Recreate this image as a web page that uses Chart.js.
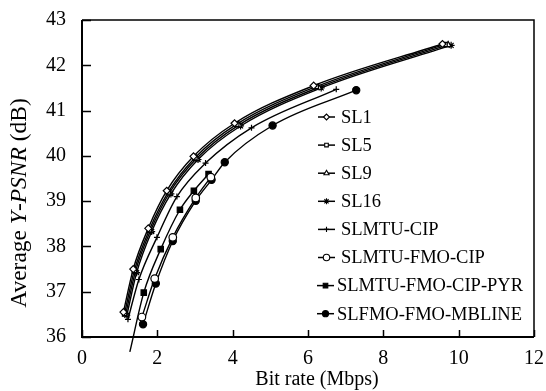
<!DOCTYPE html>
<html>
<head>
<meta charset="utf-8">
<script src="https://cdn.jsdelivr.net/npm/chart.js@4.4.1/dist/chart.umd.min.js"></script>
<style>
  html, body { margin: 0; padding: 0; background: #fff; }
  #wrap { width: 546px; height: 391px; }
</style>
</head>
<body>
<div id="wrap"><canvas id="chart" width="546" height="391"></canvas></div>
<script>
/*************************************************************
 * Data (bit rate in Mbps, average Y-PSNR in dB)
 *************************************************************/
const xTicks = [0, 2, 4, 6, 8, 10, 12];
const yTicks = [36, 37, 38, 39, 40, 41, 42, 43];

const sl1Rate = [1.10, 1.36, 1.76, 2.25, 2.96, 4.05, 6.15, 9.57];
const sl1Psnr = [36.55, 37.50, 38.40, 39.23, 39.99, 40.72, 41.55, 42.47];

const sl5Rate = [1.13, 1.39, 1.79, 2.29, 3.00, 4.11, 6.22, 9.64];
const sl5Psnr = [36.52, 37.47, 38.37, 39.20, 39.96, 40.70, 41.53, 42.46];

const sl9Rate = [1.16, 1.42, 1.82, 2.32, 3.04, 4.16, 6.28, 9.72];
const sl9Psnr = [36.50, 37.45, 38.35, 39.18, 39.94, 40.68, 41.51, 42.45];

const sl16Rate = [1.19, 1.45, 1.85, 2.36, 3.08, 4.21, 6.35, 9.80];
const sl16Psnr = [36.48, 37.42, 38.33, 39.16, 39.92, 40.66, 41.50, 42.44];

const mtuCipRate = [1.22, 1.51, 1.99, 2.52, 3.28, 4.50, 6.75];
const mtuCipPsnr = [36.39, 37.27, 38.20, 39.10, 39.84, 40.62, 41.47];

const mtuFmoCipRate = [1.59, 1.93, 2.41, 3.02, 3.42];
const mtuFmoCipPsnr = [36.44, 37.29, 38.20, 39.07, 39.53];

const pyrRate = [1.27, 1.64, 2.09, 2.60, 2.97, 3.36];
const pyrPsnr = [35.67, 36.98, 37.94, 38.81, 39.23, 39.60];

const fmoMblineRate = [1.62, 1.96, 2.41, 3.02, 3.44, 3.79, 5.06, 7.28];
const fmoMblinePsnr = [36.28, 37.18, 38.12, 39.01, 39.47, 39.86, 40.67, 41.45];

const seriesLabels = [
  "SL1",
  "SL5",
  "SL9",
  "SL16",
  "SLMTU-CIP",
  "SLMTU-FMO-CIP",
  "SLMTU-FMO-CIP-PYR",
  "SLFMO-FMO-MBLINE",
];

/*************************************************************
 * Helpers
 *************************************************************/
const FONT = "'Liberation Serif', 'Times New Roman', serif";

const toPoints = (xs, ys) => xs.map((x, i) => ({ x: x, y: ys[i] }));

const makeSeries = (label, xs, ys, style) => ({
  label: label,
  data: toPoints(xs, ys),
  borderColor: "#000",
  borderWidth: 1.4,
  pointBorderColor: "#000",
  pointBorderWidth: 1.2,
  pointBackgroundColor: style.fill,
  pointStyle: style.shape,
  pointRadius: style.radius,
  tension: 0.35,
  cubicInterpolationMode: "monotone",
  clip: style.clip === undefined ? 0 : style.clip,
});

const datasets = [
  makeSeries(seriesLabels[0], sl1Rate, sl1Psnr, { shape: "rectRot", fill: "#fff", radius: 3.5 }),
  makeSeries(seriesLabels[1], sl5Rate, sl5Psnr, { shape: "rect", fill: "#fff", radius: 3 }),
  makeSeries(seriesLabels[2], sl9Rate, sl9Psnr, { shape: "triangle", fill: "#fff", radius: 3.5 }),
  makeSeries(seriesLabels[3], sl16Rate, sl16Psnr, { shape: "star", fill: "#000", radius: 3.5 }),
  makeSeries(seriesLabels[4], mtuCipRate, mtuCipPsnr, { shape: "cross", fill: "#000", radius: 3 }),
  makeSeries(seriesLabels[5], mtuFmoCipRate, mtuFmoCipPsnr, { shape: "circle", fill: "#fff", radius: 3.8 }),
  makeSeries(seriesLabels[6], pyrRate, pyrPsnr, {
    shape: "rect",
    fill: "#000",
    radius: pyrRate.map((v, i) => (i === 0 ? 0 : 3.8)),
    clip: false,
  }),
  makeSeries(seriesLabels[7], fmoMblineRate, fmoMblinePsnr, { shape: "circle", fill: "#000", radius: 3.6 }),
];

/*************************************************************
 * Frame, inward ticks, titles and legend
 *************************************************************/
const framePlugin = {
  id: "frame",
  afterDraw(chart) {
    const { ctx, chartArea, scales } = chart;
    const { left, right, top, bottom } = chartArea;

    ctx.save();
    ctx.strokeStyle = "#000";

    // inward tick marks
    ctx.lineWidth = 1.5;
    ctx.beginPath();
    yTicks.forEach((v) => {
      const y = Math.round(scales.y.getPixelForValue(v)) + 0.5;
      ctx.moveTo(left, y);
      ctx.lineTo(left + 9, y);
    });
    xTicks.forEach((v) => {
      const x = Math.round(scales.x.getPixelForValue(v)) + 0.5;
      ctx.moveTo(x, bottom);
      ctx.lineTo(x, bottom - 7);
    });
    ctx.stroke();

    // box
    ctx.lineWidth = 1.5;
    ctx.beginPath();
    ctx.moveTo(left, top);
    ctx.lineTo(right, top);
    ctx.lineTo(right, bottom);
    ctx.stroke();
    ctx.lineWidth = 2;
    ctx.beginPath();
    ctx.moveTo(left, top);
    ctx.lineTo(left, bottom);
    ctx.lineTo(right, bottom);
    ctx.stroke();

    // x title
    ctx.fillStyle = "#000";
    ctx.font = "20px " + FONT;
    ctx.textAlign = "center";
    ctx.textBaseline = "middle";
    ctx.fillText("Bit rate (Mbps)", 317, 380);

    // y title with italic part
    const size = 23.5;
    const parts = [
      ["Average ", "normal"],
      ["Y", "italic"],
      ["-", "normal"],
      ["PSNR", "italic"],
      [" (dB)", "normal"],
    ];
    let total = 0;
    parts.forEach(([t, s]) => {
      ctx.font = s + " " + size + "px " + FONT;
      total += ctx.measureText(t).width;
    });
    ctx.translate(20, 203);
    ctx.rotate(-Math.PI / 2);
    ctx.textAlign = "left";
    let pos = -total / 2;
    parts.forEach(([t, s]) => {
      ctx.font = s + " " + size + "px " + FONT;
      ctx.fillText(t, pos, 0);
      pos += ctx.measureText(t).width;
    });
    ctx.restore();

    // legend
    ctx.save();
    ctx.font = "18.5px " + FONT;
    ctx.textBaseline = "middle";
    ctx.textAlign = "left";
    chart.data.datasets.forEach((ds, i) => {
      const y = 117 + i * 28.1;
      const shift = i >= 6 ? 1 : 0;
      const x0 = 318 - shift;
      const x1 = 335 - shift;
      ctx.strokeStyle = "#000";
      ctx.lineWidth = 1.5;
      ctx.beginPath();
      ctx.moveTo(x0, y);
      ctx.lineTo(x1, y);
      ctx.stroke();
      const r = Array.isArray(ds.pointRadius) ? 3.8 : ds.pointRadius;
      ctx.fillStyle = ds.pointBackgroundColor;
      ctx.lineWidth = 1.1;
      Chart.helpers.drawPoint(
        ctx,
        { pointStyle: ds.pointStyle, radius: r * 0.85, rotation: 0, borderWidth: 1.1 },
        (x0 + x1) / 2,
        y
      );
      ctx.fillStyle = "#000";
      ctx.fillText(ds.label, i >= 6 ? 337 : 341, y + 1);
    });
    ctx.restore();
  },
};

/*************************************************************
 * Chart
 *************************************************************/
new Chart(document.getElementById("chart").getContext("2d"), {
  type: "line",
  data: { datasets: datasets },
  plugins: [framePlugin],
  options: {
    responsive: false,
    animation: false,
    layout: { padding: { top: 16, right: 11, left: 0, bottom: 0 } },
    plugins: {
      legend: { display: false },
      tooltip: { enabled: false },
    },
    scales: {
      x: {
        type: "linear",
        min: 0,
        max: 12,
        afterBuildTicks: (scale) => {
          scale.ticks = xTicks.map((v) => ({ value: v }));
        },
        afterFit: (scale) => {
          scale.height = 54;
        },
        border: { display: false },
        grid: { display: false },
        ticks: {
          color: "#000",
          padding: 2,
          font: { family: FONT, size: 20 },
        },
      },
      y: {
        type: "linear",
        min: 36,
        max: 43,
        afterBuildTicks: (scale) => {
          scale.ticks = yTicks.map((v) => ({ value: v }));
        },
        afterFit: (scale) => {
          scale.width = 82;
        },
        border: { display: false },
        grid: { display: false },
        ticks: {
          color: "#000",
          padding: 8,
          font: { family: FONT, size: 20 },
        },
      },
    },
  },
});
</script>
</body>
</html>
